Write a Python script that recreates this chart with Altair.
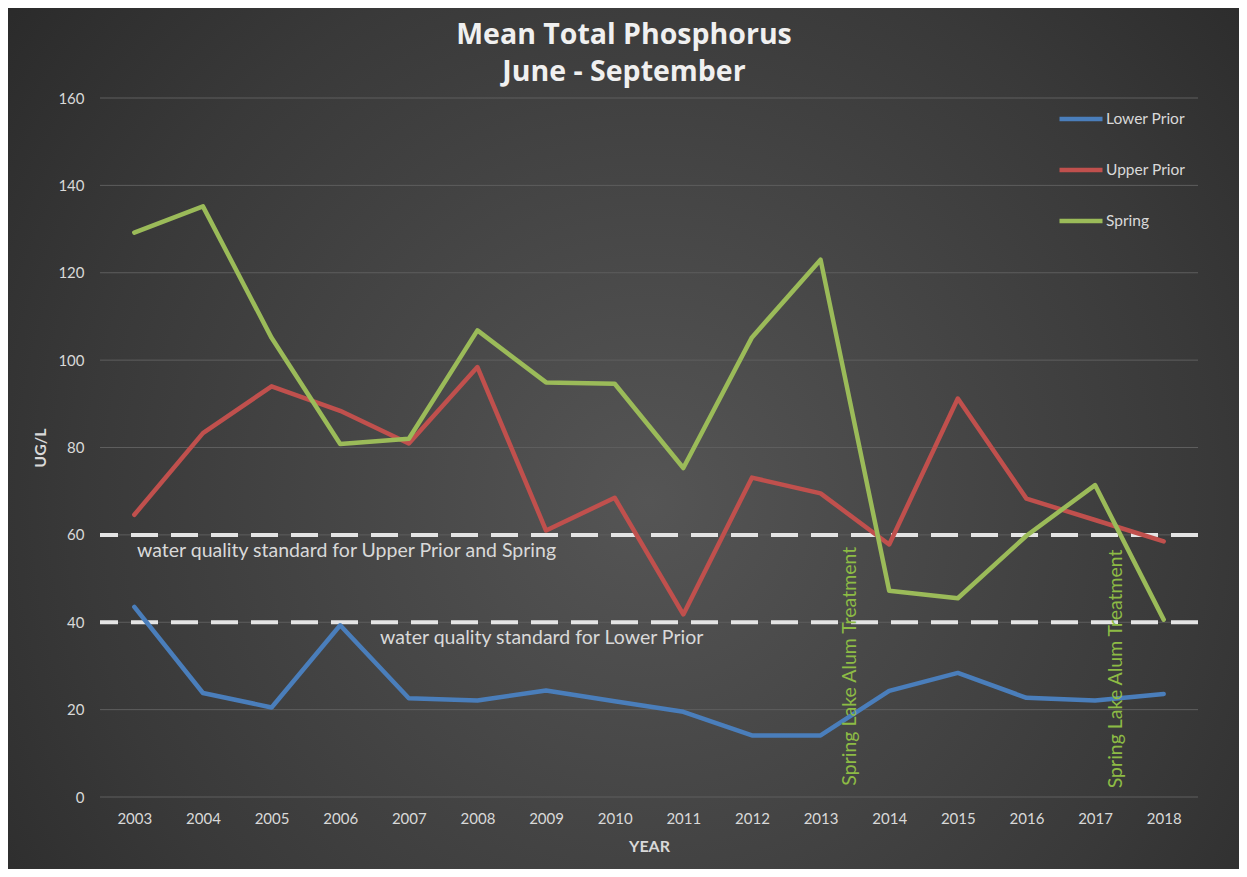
import altair as alt
import pandas as pd

years = list(range(2003, 2019))
lower_prior = [43.5, 23.8, 20.5, 39.3, 22.6, 22.1, 24.4, 21.9, 19.5, 14.1, 14.1, 24.3, 28.4, 22.7, 22.1, 23.6]
upper_prior = [64.6, 83.3, 94.0, 88.4, 80.9, 98.4, 61.0, 68.5, 41.8, 73.1, 69.5, 57.8, 91.2, 68.3, 63.4, 58.5]
spring = [129.2, 135.2, 105.1, 80.8, 82.0, 106.8, 94.9, 94.6, 75.3, 105.2, 123.0, 47.2, 45.5, 59.8, 71.4, 40.6]

series_names = ["Lower Prior", "Upper Prior", "Spring"]
series_colors = ["#4a7ebb", "#c0504d", "#9bbb59"]

y_ticks = list(range(0, 161, 20))
standards = [60, 40]
std_text = ["water quality standard for Upper Prior and Spring", "water quality standard for Lower Prior"]
std_x = [2003.04, 2006.58]
std_y = [56.3, 36.4]

treat_text = ["Spring Lake Alum Treatment", "Spring Lake Alum Treatment"]
treat_x = [2013.43, 2017.3]
treat_y = [2.6, 2.0]

title_lines = ["Mean Total Phosphorus", "June - September"]

W, H = 1098, 699
PAD = {"left": 92, "top": 90, "right": 41, "bottom": 72}
FONT = "Lato"

rows = []
for name, vals in zip(series_names, [lower_prior, upper_prior, spring]):
    for y, v in zip(years, vals):
        rows.append({"Year": y, "Value": v, "Series": name})
df = pd.DataFrame(rows)

xscale = alt.Scale(domain=[2002.5, 2018.5], nice=False, zero=False)
yscale = alt.Scale(domain=[0, 160], nice=False)

x_axis = alt.Axis(values=years, format="d", title="YEAR", grid=False, domain=False, ticks=False,
                  labelPadding=14, titlePadding=12, zindex=1)
y_axis = alt.Axis(values=y_ticks, title="UG/L", domain=False, ticks=False, grid=False,
                  labelPadding=16, titlePadding=9, zindex=1)

bg = alt.Chart(pd.DataFrame({"a": [0]})).mark_rect(
    fill={
        "gradient": "radial",
        "stops": [
            {"offset": 0, "color": "#555555"},
            {"offset": 0.6, "color": "#393939"},
            {"offset": 1, "color": "#232323"},
        ],
        "x1": 0.52, "y1": 0.55, "r1": 0,
        "x2": 0.52, "y2": 0.55, "r2": 0.75,
    }
).encode(
    x=alt.value(-PAD["left"] - 10),
    x2=alt.value(W + PAD["right"] + 10),
    y=alt.value(-PAD["top"] - 10),
    y2=alt.value(H + PAD["bottom"] + 10),
)

grid = alt.Chart(pd.DataFrame({"g": y_ticks})).mark_rule(color="#5e5e5e", strokeWidth=1).encode(
    y=alt.Y("g:Q", scale=yscale, axis=y_axis)
)

lines = alt.Chart(df).mark_line(strokeWidth=4.5, strokeCap="round", strokeJoin="round").encode(
    x=alt.X("Year:Q", scale=xscale, axis=x_axis),
    y=alt.Y("Value:Q", scale=yscale, axis=y_axis),
    color=alt.Color("Series:N",
                    scale=alt.Scale(domain=series_names, range=series_colors),
                    sort=series_names,
                    legend=alt.Legend(title=None, orient="none", legendX=957, legendY=-3,
                                      direction="vertical", symbolType="stroke",
                                      symbolSize=1849, symbolStrokeWidth=4.5,
                                      labelColor="#d9d9d9", labelFontSize=15.5, labelFont=FONT,
                                      labelOffset=1, rowPadding=18)),
)

rules = alt.Chart(pd.DataFrame({"v": standards})).mark_rule(
    color="#e4e4e4", strokeWidth=4, strokeDash=[27, 13]
).encode(y=alt.Y("v:Q", scale=yscale, axis=y_axis))

std_labels = alt.Chart(pd.DataFrame({"t": std_text, "x": std_x, "y": std_y})).mark_text(
    align="left", baseline="middle", color="#d9d9d9", fontSize=19.5, font=FONT
).encode(x=alt.X("x:Q", scale=xscale, axis=x_axis), y=alt.Y("y:Q", scale=yscale, axis=y_axis), text="t:N")

treat_labels = alt.Chart(pd.DataFrame({"t": treat_text, "x": treat_x, "y": treat_y})).mark_text(
    align="left", baseline="middle", angle=270, color="#8dbb45", fontSize=19.5, font=FONT
).encode(x=alt.X("x:Q", scale=xscale, axis=x_axis), y=alt.Y("y:Q", scale=yscale, axis=y_axis), text="t:N")

title1 = alt.Chart(pd.DataFrame({"t": [title_lines[0]]})).mark_text(
    align="center", baseline="middle", color="#f0f0f0", fontSize=28.5, fontWeight="bold", font="Open Sans"
).encode(x=alt.value(524), y=alt.value(-63), text="t:N")
title2 = alt.Chart(pd.DataFrame({"t": [title_lines[1]]})).mark_text(
    align="center", baseline="middle", color="#f0f0f0", fontSize=28.5, fontWeight="bold", font="Open Sans"
).encode(x=alt.value(524), y=alt.value(-26), text="t:N")

chart = alt.layer(bg, grid, rules, lines, std_labels, treat_labels, title1, title2).properties(
    width=W, height=H,
    autosize=alt.AutoSizeParams(type="none"),
    padding=PAD,
    background="#2b2b2b",
).configure_view(stroke=None).configure_axis(
    labelColor="#d9d9d9", labelFontSize=15, labelFont=FONT,
    titleColor="#d9d9d9", titleFontSize=16, titleFont=FONT, titleFontWeight="bold",
)

chart.save("out.html", embed_options={"renderer": "svg", "actions": False})
